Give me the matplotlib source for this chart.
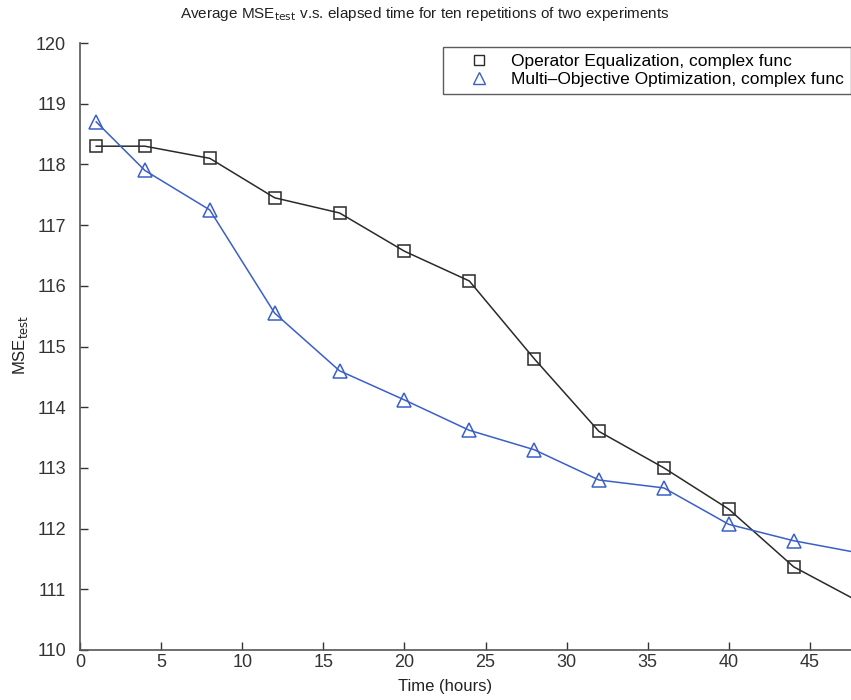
import matplotlib.pyplot as plt
from matplotlib.lines import Line2D

plt.rcParams['font.family'] = ['Liberation Sans', 'DejaVu Sans']

# hours
time = [1, 4, 8, 12, 16, 20, 24, 28, 32, 36, 40, 44, 48]
# average test MSE
oe_mse = [118.3, 118.3, 118.1, 117.45, 117.2, 116.57, 116.08, 114.8, 113.6,
          113.0, 112.32, 111.37, 110.8]
moo_mse = [118.7, 117.9, 117.25, 115.55, 114.6, 114.12, 113.62, 113.3, 112.8,
           112.67, 112.07, 111.8, 111.6]

labels = ['Operator Equalization, complex func',
          'Multi\u2013Objective Optimization, complex func']

W, H = 851, 700
fig = plt.figure(figsize=(W / 100, H / 100), dpi=100)
# axes run past the right edge of the picture, as in the cropped original
ax = fig.add_axes([80 / W, 1 - 650 / H, 811 / W, 607 / H])

black = '#2a2a2a'
blue = '#3b5fc8'
ax.plot(time, oe_mse, color=black, lw=1.1, marker='s', ms=8, mfc='none',
        mec=black, mew=1.1)
ax.plot(time, moo_mse, color=blue, lw=1.1, marker='^', ms=10, mfc='none',
        mec=blue, mew=1.1)

ax.set_xlim(0, 50)
ax.set_ylim(110, 120)
ax.set_xticks(range(0, 46, 5))
ax.set_yticks(range(110, 121, 1))
ax.tick_params(direction='in', length=6, labelsize=13, colors='#333333',
               width=1)
ax.tick_params(axis='y', pad=10)
ax.tick_params(axis='x', pad=3)
for s in ['top', 'right']:
    ax.spines[s].set_visible(False)
for s in ['left', 'bottom']:
    ax.spines[s].set_color('#555555')
    ax.spines[s].set_linewidth(1.2)

handles = [Line2D([], [], ls='none', marker='s', ms=7, mfc='none', mec=black),
           Line2D([], [], ls='none', marker='^', ms=9, mfc='none', mec=blue)]
leg = ax.legend(handles, labels, loc='upper left',
                bbox_to_anchor=(363 / 811, 1 - 4 / 607), fontsize=12.5,
                frameon=True, fancybox=False, handlelength=3.4,
                borderpad=0.4, labelspacing=0.15, handletextpad=0.1,
                borderaxespad=0)
leg.get_frame().set_edgecolor('#333333')
leg.get_frame().set_linewidth(1.0)

fig.text(425 / W, 1 - 14 / H,
         r'Average MSE$_{\mathrm{test}}$ v.s. elapsed time for ten repetitions of two experiments',
         ha='center', va='center', fontsize=11, color='#222222')
fig.text(445 / W, 1 - 686 / H, 'Time (hours)', ha='center', va='center',
         fontsize=12, color='#222222')
fig.text(20 / W, 1 - 345 / H, r'MSE$_{\mathrm{test}}$', ha='center',
         va='center', rotation=90, fontsize=12, color='#222222')

fig.savefig('out.png', dpi=100)
